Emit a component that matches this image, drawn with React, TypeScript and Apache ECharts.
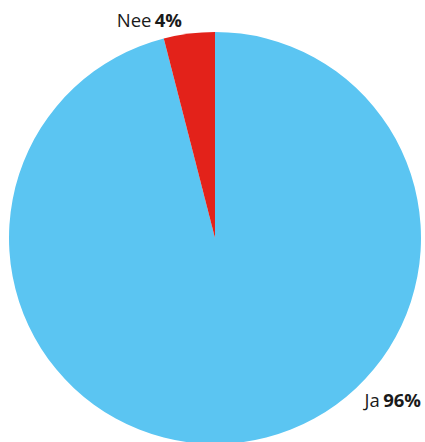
import React, { useEffect, useRef } from "react";
import * as echarts from "echarts";

const categories = ["Ja", "Nee"];
const values = [96, 4];
const colors = ["#5BC5F2", "#E3221A"];

export default function App() {
  const ref = useRef<HTMLDivElement>(null);
  useEffect(() => {
    document.body.style.margin = "0";
    const chart = echarts.init(ref.current!, null, { renderer: "svg" });
    chart.setOption({
      animation: false,
      series: [
        {
          type: "pie",
          center: [215, 238],
          radius: [0, 206],
          startAngle: 90,
          clockwise: true,
          silent: true,
          data: categories.map((c, i) => ({
            name: c,
            value: values[i],
            itemStyle: { color: colors[i] },
          })),
          label: {
            show: true,
            position: "outside",
            formatter: (p: any) => `{n|${p.name}} {v|${p.value}%}`,
            rich: {
              n: { fontFamily: "Open Sans", fontSize: 18.5, color: "#1a1a1a" },
              v: { fontFamily: "Open Sans", fontSize: 18.5, fontWeight: "bold", color: "#1a1a1a" },
            },
          },
          labelLine: { show: false },
          labelLayout: (params: any) =>
            params.dataIndex === 0
              ? { x: 421, y: 399, align: "right", verticalAlign: "middle" }
              : { x: 182, y: 19, align: "right", verticalAlign: "middle" },
        },
      ],
    });
    return () => chart.dispose();
  }, []);
  return <div ref={ref} style={{ width: 425, height: 442 }} />;
}
